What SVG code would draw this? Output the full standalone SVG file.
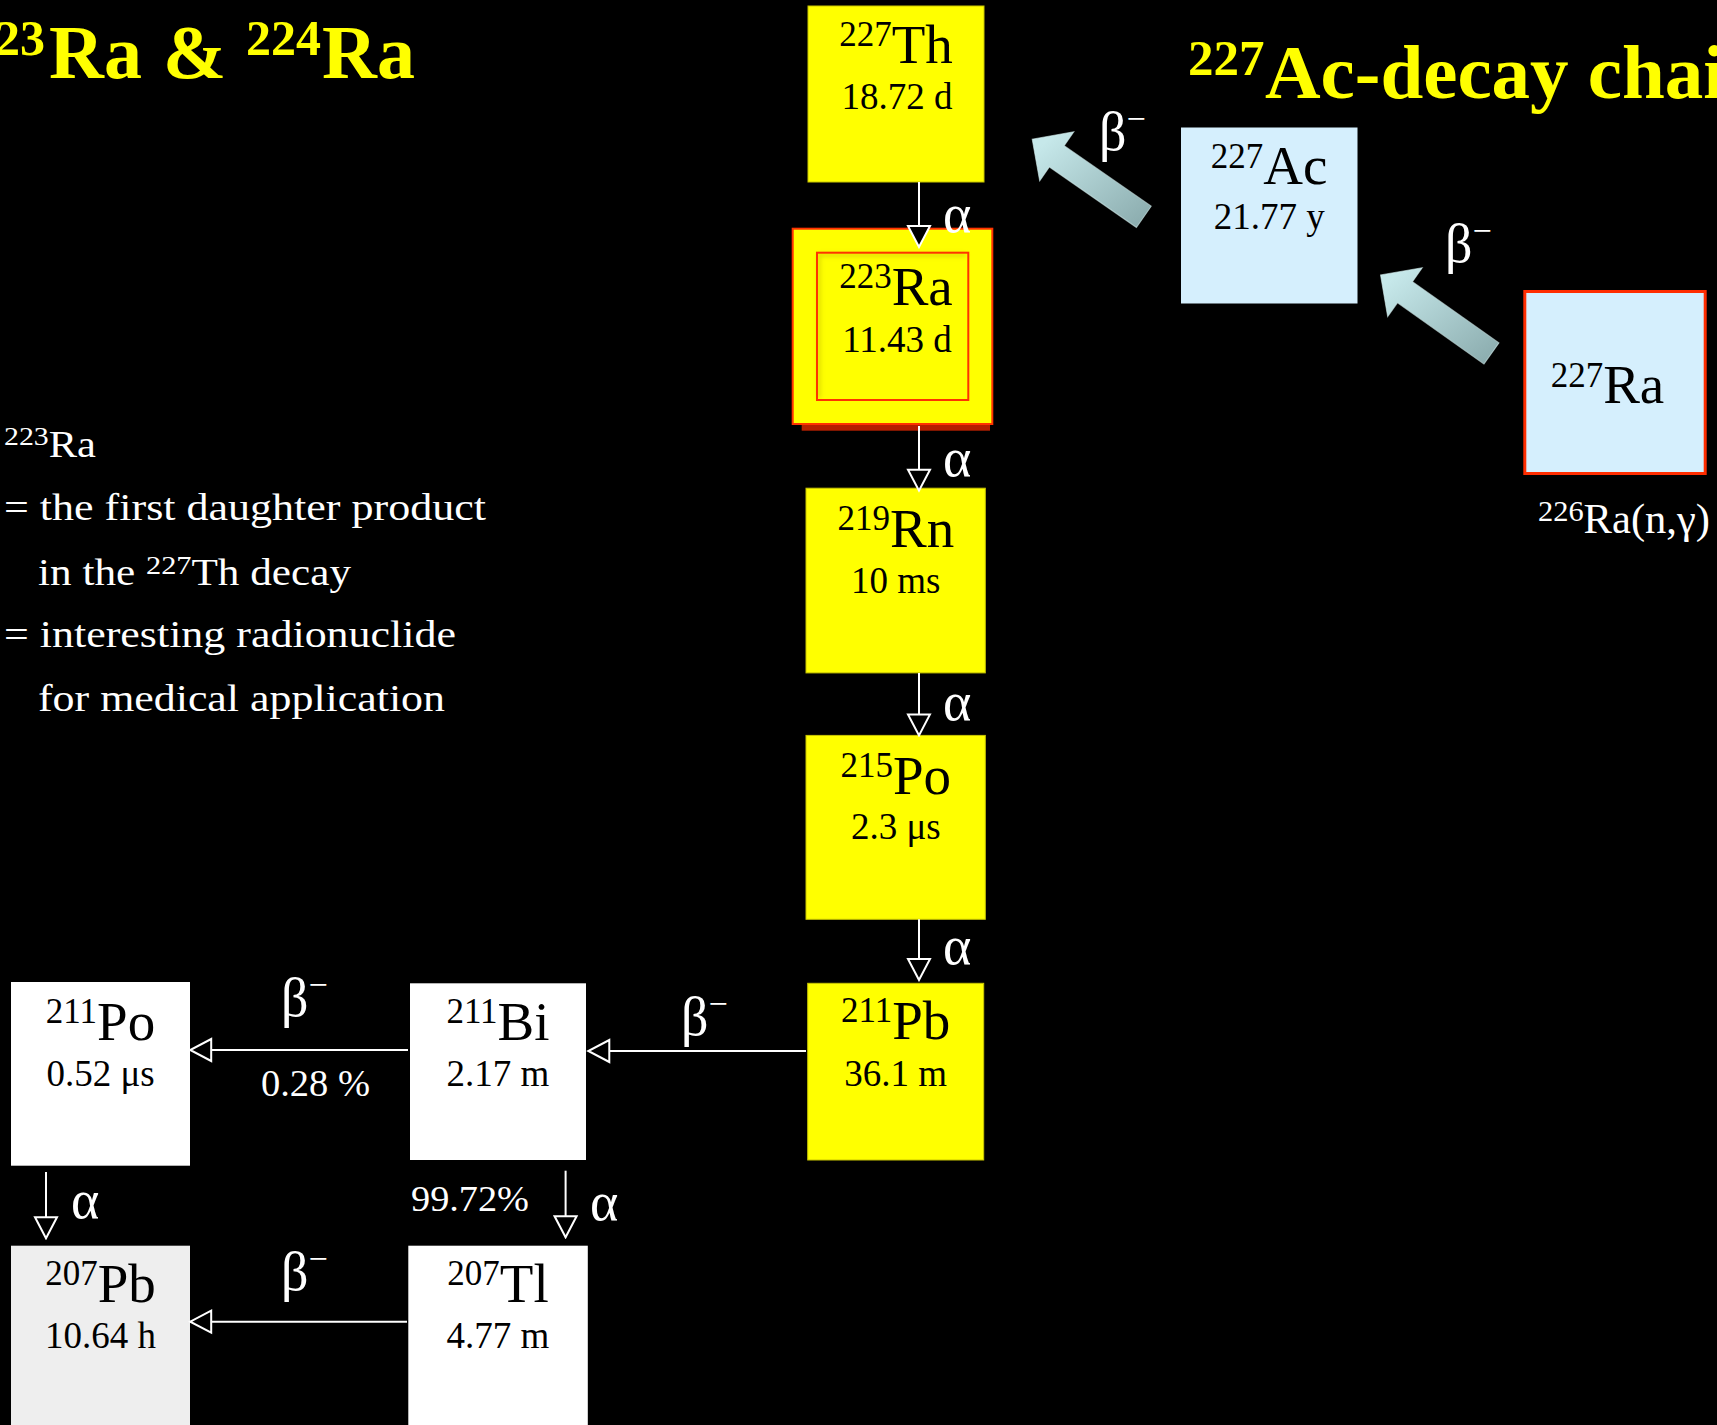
<svg xmlns="http://www.w3.org/2000/svg" width="1717" height="1425" viewBox="0 0 1717 1425">
<style>
.bg{fill:#000}
.yb{fill:#ffff00;stroke:#c9c500;stroke-width:1}
.wb{fill:#ffffff}
.gb{fill:#eeeeee}
.lb{fill:#d5effd}
.nt{font-family:"Liberation Serif","Times New Roman",serif;fill:#000;text-anchor:middle}
.lbl{font-family:"Liberation Serif","Times New Roman",serif;fill:#fff}
.ttl{font-family:"Liberation Serif","Times New Roman",serif;font-weight:bold;fill:#ffff00}
.conn{stroke:#fff;stroke-width:2;fill:none;marker-end:url(#ah)}
.greek{font-size:54px}
.blk{fill:url(#bg1);stroke:#d8f4f4;stroke-width:1;stroke-opacity:0.6}
</style>
<defs>
<marker id="ah" markerUnits="userSpaceOnUse" viewBox="-2 -13 25 26" markerWidth="25" markerHeight="26" refX="21" refY="0" orient="auto">
<path d="M0,-11 L21,0 L0,11 Z" fill="#000" stroke="#fff" stroke-width="2"/>
</marker>
<linearGradient id="bg1" gradientUnits="userSpaceOnUse" x1="0" y1="-13" x2="120" y2="20">
<stop offset="0" stop-color="#8cadaf"/>
<stop offset="1" stop-color="#c6e8ea"/>
</linearGradient>
<filter id="inset" x="-5%" y="-5%" width="110%" height="110%">
<feGaussianBlur stdDeviation="2"/>
</filter>
</defs>
<rect class="bg" x="0" y="0" width="1717" height="1425"/>

<g id="title-left">
<text class="ttl" y="78"><tspan x="-30" y="55" font-size="50">223</tspan><tspan x="49" y="78" font-size="76">Ra</tspan><tspan x="163" y="78" font-size="76">&amp;</tspan><tspan x="246" y="55" font-size="50">224</tspan><tspan x="322" y="78" font-size="76">Ra</tspan></text>
</g>
<g id="title-right">
<text class="ttl"><tspan x="1188" y="75" font-size="51">227</tspan><tspan x="1265" y="98" font-size="77">Ac-decay chain</tspan></text>
</g>

<g id="notes">
<text class="lbl" x="4" y="457" font-size="37" textLength="92" lengthAdjust="spacingAndGlyphs"><tspan font-size="26" dy="-12">223</tspan><tspan dy="12">Ra</tspan></text>
<text class="lbl" x="4" y="520" font-size="37" textLength="482" lengthAdjust="spacingAndGlyphs">= the first daughter product</text>
<text class="lbl" x="38" y="585" font-size="37" textLength="313" lengthAdjust="spacingAndGlyphs">in the <tspan font-size="26" dy="-11">227</tspan><tspan dy="11">Th decay</tspan></text>
<text class="lbl" x="4" y="647" font-size="37" textLength="452" lengthAdjust="spacingAndGlyphs">= interesting radionuclide</text>
<text class="lbl" x="38" y="711" font-size="37" textLength="407" lengthAdjust="spacingAndGlyphs">for medical application</text>
</g>

<g id="n-Th227">
<rect class="yb" x="808" y="6" width="176" height="176"/>
<text class="nt" x="896" y="63"><tspan font-size="35" dy="-17">227</tspan><tspan font-size="55" dy="17">Th</tspan></text>
<text class="nt" x="897" y="109" font-size="37">18.72 d</text>
</g>

<g id="n-Ra223">
<rect x="801.7" y="424" width="188.3" height="6.7" fill="#b52000"/>
<rect x="792.7" y="228.7" width="199.6" height="195.3" fill="#ffff00" stroke="#ff3300" stroke-width="2"/>
<rect x="817" y="252.7" width="151.3" height="147.3" fill="#ffff00"/>
<path d="M819,398 L819,255 L966,255" fill="none" stroke="#b8b000" stroke-width="3" opacity="0.5" filter="url(#inset)"/>
<rect x="817" y="252.7" width="151.3" height="147.3" fill="none" stroke="#ff3300" stroke-width="2"/>
<text class="nt" x="896" y="305"><tspan font-size="35" dy="-17">223</tspan><tspan font-size="55" dy="17">Ra</tspan></text>
<text class="nt" x="897" y="351.7" font-size="37">11.43 d</text>
</g>

<g id="n-Rn219">
<rect class="yb" x="806" y="488.2" width="179.3" height="184.7"/>
<text class="nt" x="895.8" y="547"><tspan font-size="35" dy="-17">219</tspan><tspan font-size="55" dy="17">Rn</tspan></text>
<text class="nt" x="895.8" y="592.5" font-size="37">10 ms</text>
</g>

<g id="n-Po215">
<rect class="yb" x="806" y="735.4" width="179.3" height="183.9"/>
<text class="nt" x="895.8" y="794.3"><tspan font-size="35" dy="-17">215</tspan><tspan font-size="55" dy="17">Po</tspan></text>
<text class="nt" x="895.8" y="839" font-size="37">2.3 μs</text>
</g>

<g id="n-Pb211">
<rect class="yb" x="807.7" y="983.3" width="176" height="176.7"/>
<text class="nt" x="895.7" y="1039.3"><tspan font-size="35" dy="-17">211</tspan><tspan font-size="55" dy="17">Pb</tspan></text>
<text class="nt" x="895.7" y="1086" font-size="37">36.1 m</text>
</g>

<g id="n-Bi211">
<rect class="wb" x="410" y="983.3" width="176" height="176.7"/>
<text class="nt" x="498" y="1040"><tspan font-size="35" dy="-17">211</tspan><tspan font-size="55" dy="17">Bi</tspan></text>
<text class="nt" x="498" y="1086" font-size="37">2.17 m</text>
</g>

<g id="n-Po211">
<rect class="wb" x="11" y="982" width="179" height="183.7"/>
<text class="nt" x="100.5" y="1040"><tspan font-size="35" dy="-17">211</tspan><tspan font-size="55" dy="17">Po</tspan></text>
<text class="nt" x="100.5" y="1086" font-size="37">0.52 μs</text>
</g>

<g id="n-Tl207">
<rect class="wb" x="408.3" y="1245.7" width="179.5" height="190"/>
<text class="nt" x="498" y="1301.7"><tspan font-size="35" dy="-17">207</tspan><tspan font-size="55" dy="17">Tl</tspan></text>
<text class="nt" x="498" y="1348" font-size="37">4.77 m</text>
</g>

<g id="n-Pb207">
<rect class="gb" x="11" y="1245.7" width="179" height="190"/>
<text class="nt" x="100.5" y="1301.7"><tspan font-size="35" dy="-17">207</tspan><tspan font-size="55" dy="17">Pb</tspan></text>
<text class="nt" x="100.5" y="1348.3" font-size="37">10.64 h</text>
</g>

<g id="n-Ac227">
<rect class="lb" x="1181" y="127.5" width="176.5" height="176"/>
<text class="nt" x="1269" y="184"><tspan font-size="35" dy="-16">227</tspan><tspan font-size="55" dy="16">Ac</tspan></text>
<text class="nt" x="1269.3" y="228.6" font-size="37">21.77 y</text>
</g>

<g id="n-Ra227">
<rect class="lb" x="1524.8" y="291.5" width="180.4" height="182" stroke="#ff2d00" stroke-width="3"/>
<text class="nt" x="1607.5" y="403.3"><tspan font-size="35" dy="-16">227</tspan><tspan font-size="55" dy="16">Ra</tspan></text>
<text class="lbl" x="1538" y="533.3" font-size="42" textLength="172" lengthAdjust="spacingAndGlyphs"><tspan font-size="30" dy="-12">226</tspan><tspan dy="12">Ra(n,γ)</tspan></text>
</g>

<g id="connectors">
<path class="conn" d="M919,182 L919,247"/>
<path class="conn" d="M919,426 L919,490.7"/>
<path class="conn" d="M919,673 L919,735.4"/>
<path class="conn" d="M919,919.3 L919,980"/>
<path class="conn" d="M806,1051 L588.3,1051"/>
<path class="conn" d="M408,1050 L190.2,1050"/>
<path class="conn" d="M46,1172 L46,1238.3"/>
<path class="conn" d="M565.6,1170.7 L565.6,1237.3"/>
<path class="conn" d="M407,1321.7 L190.2,1321.7"/>
<path class="blk" transform="translate(1143.85,216.85) rotate(214.8)" d="M0,-13 L106,-13 L106,-30 L136,0 L106,30 L106,13 L0,13 Z"/>
<path class="blk" transform="translate(1491.5,353.5) rotate(215.3)" d="M0,-13 L106,-13 L106,-30 L136,0 L106,30 L106,13 L0,13 Z"/>
</g>

<g id="labels">
<text class="lbl greek" x="943" y="232">α</text>
<text class="lbl greek" x="943" y="476">α</text>
<text class="lbl greek" x="943" y="720">α</text>
<text class="lbl greek" x="943" y="964">α</text>
<text class="lbl greek" x="71" y="1218">α</text>
<text class="lbl greek" x="590" y="1220">α</text>
<text class="lbl greek" x="681" y="1035">β<tspan font-size="34" dy="-20">−</tspan></text>
<text class="lbl greek" x="281" y="1016">β<tspan font-size="34" dy="-20">−</tspan></text>
<text class="lbl greek" x="281" y="1290">β<tspan font-size="34" dy="-20">−</tspan></text>
<text class="lbl greek" x="1099" y="150">β<tspan font-size="34" dy="-20">−</tspan></text>
<text class="lbl greek" x="1445" y="262">β<tspan font-size="34" dy="-20">−</tspan></text>
<text class="lbl" x="261" y="1096" font-size="37" textLength="109" lengthAdjust="spacingAndGlyphs">0.28 %</text>
<text class="lbl" x="411" y="1210.7" font-size="35" textLength="118" lengthAdjust="spacingAndGlyphs">99.72%</text>
</g>
</svg>
